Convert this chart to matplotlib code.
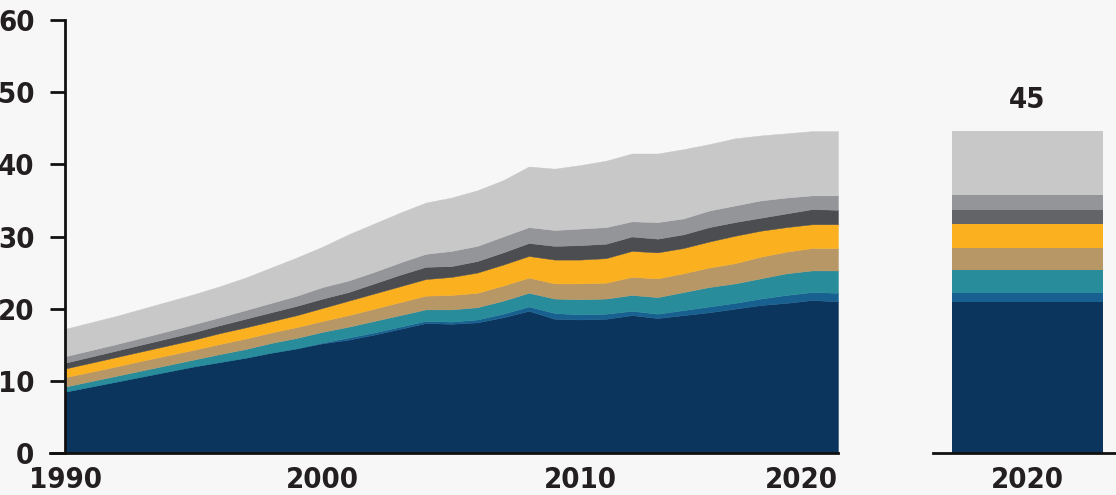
import matplotlib
matplotlib.use("Agg")
import matplotlib.pyplot as plt
from matplotlib import font_manager
from matplotlib.font_manager import FontProperties

years = list(range(1990, 2021))

navy = [8.5, 9.2, 9.9, 10.6, 11.3, 12.0, 12.6, 13.2, 13.9, 14.5, 15.2, 15.7, 16.4, 17.2, 18.0,
        17.9, 18.1, 18.8, 19.7, 18.6, 18.5, 18.6, 19.1, 18.7, 19.1, 19.5, 20.0, 20.5, 20.8, 21.2, 21.0]
mid_blue = [0, 0, 0, 0, 0, 0, 0, 0, 0, 0, 0.1, 0.3, 0.3, 0.3, 0.3,
            0.3, 0.4, 0.5, 0.6, 0.8, 0.7, 0.7, 0.6, 0.6, 0.7, 0.8, 0.8, 0.9, 1.1, 1.1, 1.2]
teal = [0.7, 0.75, 0.8, 0.85, 0.9, 0.95, 1.1, 1.2, 1.35, 1.45, 1.5, 1.5, 1.6, 1.6, 1.6,
        1.7, 1.7, 1.8, 1.9, 2.0, 2.1, 2.1, 2.2, 2.3, 2.5, 2.7, 2.7, 2.8, 3.0, 3.0, 3.1]
tan = [1.3, 1.3, 1.3, 1.35, 1.35, 1.35, 1.4, 1.45, 1.45, 1.5, 1.5, 1.6, 1.7, 1.8, 1.9,
       2.0, 2.0, 2.1, 2.1, 2.1, 2.2, 2.2, 2.5, 2.6, 2.6, 2.7, 2.8, 3.0, 3.0, 3.1, 3.1]
yellow = [1.2, 1.25, 1.3, 1.3, 1.35, 1.4, 1.5, 1.55, 1.55, 1.65, 1.8, 2.0, 2.1, 2.2, 2.3,
          2.5, 2.8, 2.9, 3.0, 3.3, 3.3, 3.4, 3.6, 3.6, 3.5, 3.6, 3.8, 3.6, 3.4, 3.3, 3.3]
dark_gray = [0.8, 0.85, 0.9, 0.95, 1.0, 1.05, 1.1, 1.2, 1.25, 1.3, 1.3, 1.2, 1.4, 1.6, 1.7,
             1.5, 1.6, 1.7, 1.8, 1.9, 2.0, 2.0, 2.0, 1.9, 1.9, 2.0, 1.9, 1.8, 1.9, 2.1, 2.0]
gray = [0.9, 0.9, 0.9, 0.95, 1.0, 1.1, 1.1, 1.2, 1.3, 1.4, 1.6, 1.6, 1.6, 1.7, 1.8,
        2.1, 2.1, 2.2, 2.2, 2.2, 2.3, 2.3, 2.1, 2.3, 2.2, 2.3, 2.3, 2.4, 2.2, 1.9, 2.0]
light_gray = [3.8, 3.85, 3.9, 4.0, 4.1, 4.15, 4.3, 4.5, 4.9, 5.3, 5.6, 6.4, 6.7, 6.9, 7.1,
              7.4, 7.7, 7.8, 8.4, 8.5, 8.8, 9.2, 9.4, 9.5, 9.6, 9.2, 9.3, 9.0, 8.9, 8.9, 8.9]

bar_year_label = "2020"
bar_segments = [20.9, 1.3, 3.1, 3.1, 3.3, 2.0, 2.0, 8.9]
bar_total_label = "45"

xtick_years = [1990, 2000, 2010, 2020]
yticks = [0, 10, 20, 30, 40, 50, 60]

area_colors = ["#0c355e", "#17608f", "#288c9b", "#b89766", "#fbb020",
               "#4c4d50", "#939599", "#c8c8c8"]
bar_colors = ["#0c355e", "#17608f", "#288c9b", "#b89766", "#fbb020",
              "#636468", "#939599", "#c8c8c8"]


def _is_bold(w):
    if isinstance(w, str):
        return w in ("bold", "heavy", "extra bold", "demibold", "semibold", "black")
    return w >= 600


def _is_cond(f):
    n = (f.name + " " + f.fname).lower()
    return (("condensed" in n or "narrow" in n or f.stretch in
             ("condensed", "semi-condensed", "extra-condensed", "ultra-condensed"))
            and "mono" not in n and "serif" not in n.replace("sans", ""))


cands = [f for f in font_manager.fontManager.ttflist if _is_cond(f)]
bold_c = [f for f in cands if _is_bold(f.weight)]
pick = (bold_c or cands or [None])[0]
if pick is not None:
    FP = FontProperties(fname=pick.fname)
    FS = 21
else:
    names = {f.name for f in font_manager.fontManager.ttflist}
    fam = "Liberation Sans" if "Liberation Sans" in names else "DejaVu Sans"
    FP = FontProperties(family=fam, weight="bold")
    FS = 16

BG = "#f7f7f7"
TXT = "#231f20"
W, H = 1116, 495
fig = plt.figure(figsize=(W / 100, H / 100), dpi=100, facecolor=BG)

ax = fig.add_axes([65 / W, 42 / H, (838 - 65) / W, 433 / H])
ax.set_facecolor(BG)
ax.stackplot(years, navy, mid_blue, teal, tan, yellow, dark_gray, gray, light_gray,
             colors=area_colors, linewidth=0.3, edgecolor="face")
ax.set_xlim(1990, 2020)
ax.set_ylim(0, 60)
for s in ["top", "right"]:
    ax.spines[s].set_visible(False)
for s in ["left", "bottom"]:
    ax.spines[s].set_linewidth(2)
    ax.spines[s].set_color("#111111")
    ax.spines[s].set_zorder(5)
ax.spines["bottom"].set_bounds(1990 - 15 / 25.77, 2020)
ax.set_yticks(yticks)
ax.set_yticklabels([str(v) for v in yticks], fontproperties=FP, fontsize=FS)
ax.tick_params(axis="y", length=11, width=2, color="#111111", pad=11, labelcolor=TXT)
ax.set_xticks(xtick_years)
ax.set_xticklabels([str(v) for v in xtick_years], fontproperties=FP, fontsize=FS)
ax.tick_params(axis="x", length=0, pad=9, labelcolor=TXT)
ax.get_xticklabels()[-1].set_horizontalalignment("right")

ax2 = fig.add_axes([933 / W, 42 / H, (W - 933) / W, 433 / H])
ax2.set_facecolor(BG)
ax2.set_xlim(-0.626, 0.586)
ax2.set_ylim(0, 60)
bottom = 0
for val, col in zip(bar_segments, bar_colors):
    ax2.bar(0, val, width=1.0, bottom=bottom, color=col, linewidth=0)
    bottom += val
ax2.text(0, bottom + 2.4, bar_total_label, ha="center", va="bottom",
         fontproperties=FP, fontsize=FS, color=TXT)
for s in ["top", "right", "left"]:
    ax2.spines[s].set_visible(False)
ax2.spines["bottom"].set_linewidth(2)
ax2.spines["bottom"].set_color("#111111")
ax2.set_yticks([])
ax2.set_xticks([0])
ax2.set_xticklabels([bar_year_label], fontproperties=FP, fontsize=FS)
ax2.tick_params(axis="x", length=0, pad=9, labelcolor=TXT)

fig.savefig("out.png", dpi=100, facecolor=BG)
